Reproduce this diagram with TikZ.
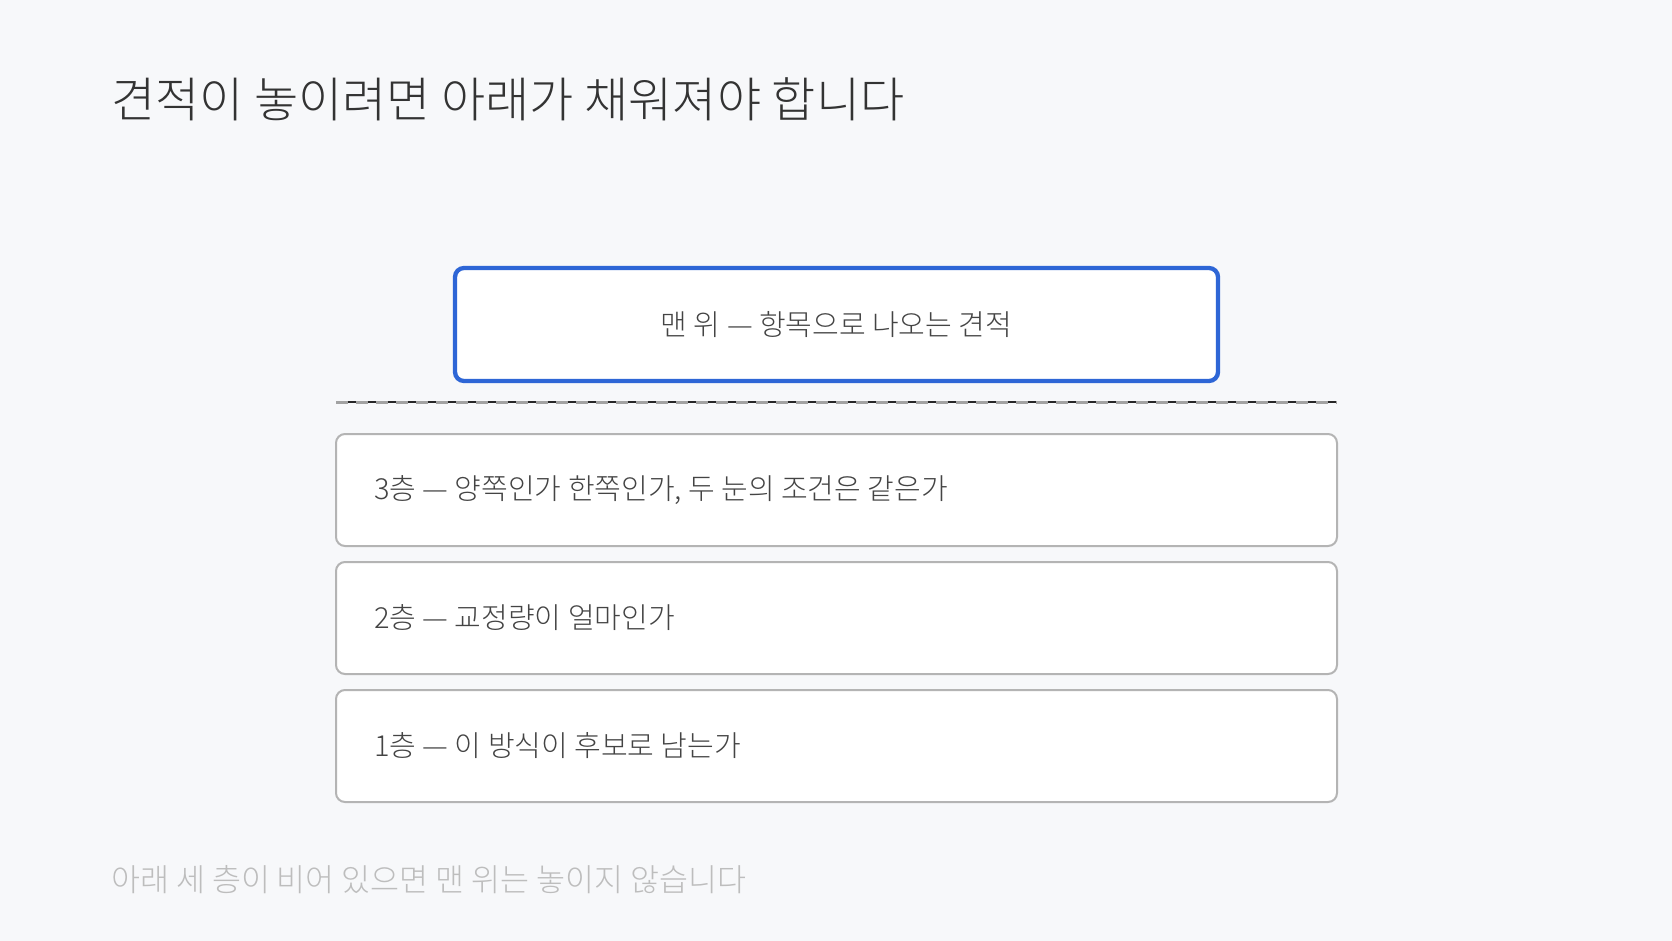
\documentclass[tikz,border=0pt]{standalone}
\usepackage{fontspec}
\setmainfont{Noto Sans CJK KR Light}
\definecolor{bg}{HTML}{F7F8FA}
\definecolor{blueline}{HTML}{2E66D6}
\definecolor{grayline}{HTML}{B4B4B4}
\definecolor{dashcol}{HTML}{A2A2A2}
\definecolor{titletext}{HTML}{333333}
\definecolor{boxtext}{HTML}{444444}
\definecolor{foot}{HTML}{BDBDBD}
\tikzset{
  topbox/.style={draw=blueline, line width=4.3pt, fill=white, rounded corners=9pt,
    minimum width=763pt, minimum height=113pt, inner sep=0pt,
    text=boxtext, font=\fontsize{29}{34}\selectfont},
  layerbox/.style={draw=grayline, line width=2pt, fill=white, rounded corners=9pt,
    minimum width=1001pt, minimum height=112pt, inner sep=0pt},
  layertext/.style={anchor=west, inner sep=0pt, text=boxtext, font=\fontsize{29}{34}\selectfont},
  sepbase/.style={draw=black!85, line width=1.2pt},
  sepline/.style={draw=dashcol, line width=3pt, dash pattern=on 12pt off 8pt},
}
\begin{document}
\begin{tikzpicture}[x=1pt,y=-1pt]
\fill[bg] (0,0) rectangle (1672,941);
\useasboundingbox (0,0) rectangle (1672,941);
\node[anchor=west, inner sep=0pt, text=titletext, font=\fontsize{48}{54}\selectfont] (title) at (111,99) {견적이 놓이려면 아래가 채워져야 합니다};
\node[topbox] (top) at (836.5,324.5) {맨 위 — 항목으로 나오는 견적};
\coordinate (dl) at (336,402);
\coordinate (dr) at (1337,402);
\draw[sepbase] (dl) -- (dr);
\draw[sepline] (dl) -- (dr);
\node[layerbox] (l3) at (836.5,490) {};
\node[layertext] (t3) at ([xshift=39pt]l3.west) {3층 — 양쪽인가 한쪽인가, 두 눈의 조건은 같은가};
\node[layerbox] (l2) at (836.5,618) {};
\node[layertext] (t2) at ([xshift=39pt]l2.west) {2층 — 교정량이 얼마인가};
\node[layerbox] (l1) at (836.5,746) {};
\node[layertext] (t1) at ([xshift=39pt]l1.west) {1층 — 이 방식이 후보로 남는가};
\node[anchor=west, inner sep=0pt, text=foot, font=\fontsize{31.5}{36}\selectfont] (foot) at (111,880) {아래 세 층이 비어 있으면 맨 위는 놓이지 않습니다};
\end{tikzpicture}
\end{document}
